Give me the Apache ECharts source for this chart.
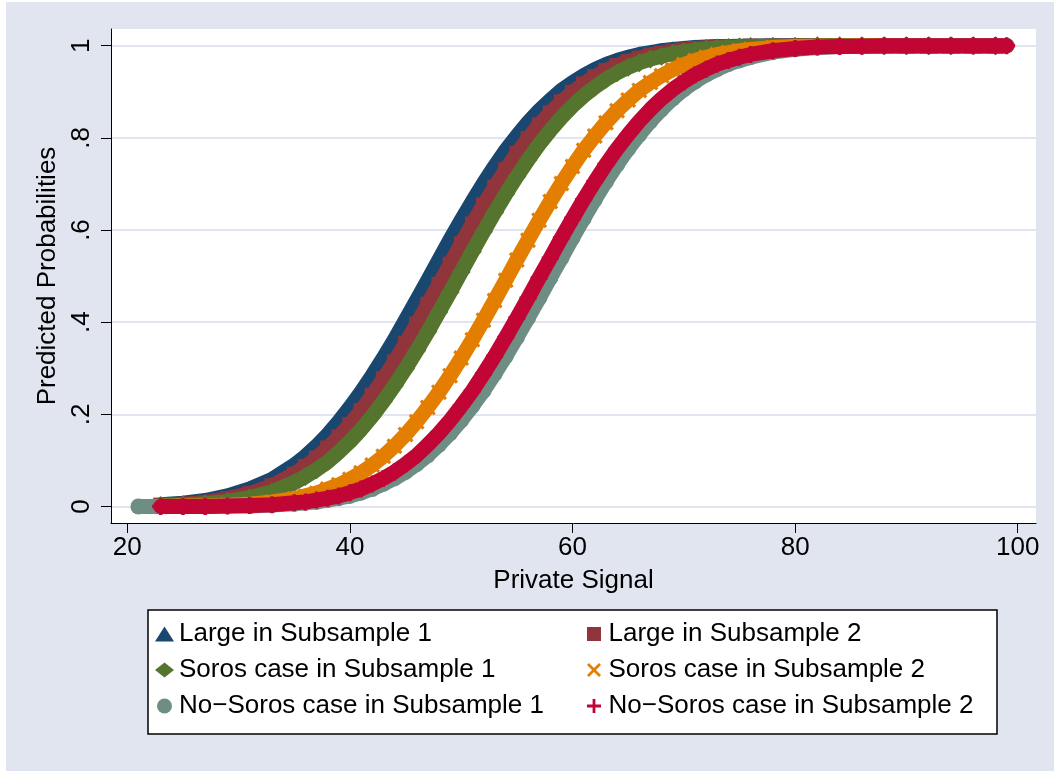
<!DOCTYPE html>
<html>
<head>
<meta charset="utf-8">
<script src="https://cdn.jsdelivr.net/npm/echarts@6/dist/echarts.min.js"></script>
<style>
  html, body { margin: 0; padding: 0; background: #fff; }
  #chart { width: 1054px; height: 771px; }
</style>
</head>
<body>
<div id="chart"></div>
<script>
// private signal values (x) shared by all curves
const signal = [21, 23, 25, 27, 29, 31, 33, 35,
  36, 37, 38, 39, 40, 41, 42, 43, 44, 45, 46, 47, 48, 49, 50, 51, 52, 53, 54, 55,
  56, 57, 58, 59, 60, 61, 62, 63, 64, 65, 66, 67, 68, 69, 70, 71, 72, 73, 74, 75, 76,
  78, 80, 82, 84, 86, 88, 90, 92, 94, 96, 98, 99];

// predicted probabilities
const large1 = [null, .004, .007, .013, .023, .038, .059, .090,
  .109, .131, .156, .184, .215, .248, .284, .322, .362, .405, .448, .491, .535, .579, .621, .662, .701, .738, .773, .804,
  .833, .859, .882, .903, .920, .935, .948, .959, .968, .975, .981, .985, .989, .992, .994, .996, .997, .998, .998, .999, .999,
  1, 1, 1, 1, 1, 1, 1, 1, 1, 1, 1, null];
const large2 = [null, .003, .005, .009, .017, .028, .045, .070,
  .087, .105, .127, .151, .178, .208, .241, .277, .314, .354, .396, .439, .482, .526, .570, .613, .654, .693, .731, .766,
  .798, .828, .854, .878, .899, .917, .933, .946, .957, .966, .973, .980, .984, .988, .991, .994, .995, .997, .998, .998, .999,
  .999, 1, 1, 1, 1, 1, 1, 1, 1, 1, 1, null];
const soros1 = [null, .002, .003, .006, .011, .019, .032, .052,
  .065, .080, .097, .118, .141, .167, .196, .228, .262, .299, .338, .379, .422, .465, .509, .553, .596, .638, .678, .716,
  .752, .786, .816, .844, .869, .891, .910, .927, .941, .953, .963, .971, .977, .983, .987, .990, .993, .995, .996, .997, .998,
  .999, .999, 1, 1, 1, 1, 1, 1, 1, 1, 1, null];
const soros2 = [null, .000, .001, .001, .003, .005, .010, .017,
  .023, .029, .038, .047, .059, .073, .090, .109, .131, .156, .184, .215, .248, .284, .322, .362, .404, .447, .491, .535,
  .578, .621, .662, .701, .738, .773, .804, .833, .859, .882, .903, .920, .935, .948, .959, .968, .975, .981, .985, .989, .992,
  .996, .998, .999, .999, 1, 1, 1, 1, 1, 1, 1, null];
const noSoros1 = [.000, .000, .000, .000, .001, .001, .003, .006,
  .008, .010, .014, .018, .023, .030, .038, .049, .061, .075, .092, .111, .134, .159, .187, .218, .251, .288, .326, .367,
  .409, .452, .496, .539, .583, .625, .666, .705, .742, .776, .807, .836, .862, .885, .905, .922, .937, .949, .960, .968, .975,
  .986, .992, .996, .998, .999, .999, 1, 1, 1, 1, 1, 1];
const noSoros2 = [null, .000, .000, .000, .001, .002, .004, .008,
  .010, .014, .018, .023, .030, .038, .049, .061, .075, .092, .111, .134, .159, .187, .218, .251, .288, .326, .367, .409,
  .452, .496, .539, .583, .625, .666, .705, .742, .776, .807, .836, .862, .885, .905, .922, .937, .949, .960, .968, .975, .981,
  .989, .994, .997, .998, .999, 1, 1, 1, 1, 1, 1, 1];

const names = ['Large in Subsample 1', 'Large in Subsample 2',
  'Soros case in Subsample 1', 'Soros case in Subsample 2',
  'No\u2212Soros case in Subsample 1', 'No\u2212Soros case in Subsample 2'];
const xTicks = [20, 40, 60, 80, 100];
const yTicks = [0, 0.2, 0.4, 0.6, 0.8, 1];

const font = "'Liberation Sans', Arial, sans-serif";
const bg = '#e0e5ef';
const crossX = 'path://M0,1.4L1.4,0L5,3.6L8.6,0L10,1.4L6.4,5L10,8.6L8.6,10L5,6.4L1.4,10L0,8.6L3.6,5Z';
const plus = 'path://M4,0H6V4H10V6H6V10H4V6H0V4H4Z';
const square = 'path://M0,0H10V10H0Z';

function curve(name, vals, color, symbol, size, z) {
  return {
    name: name,
    type: 'line',
    z: z,
    data: signal.map((x, i) => vals[i] == null ? null : [x, vals[i]]).filter(d => d),
    symbol: symbol,
    symbolSize: size,
    showSymbol: true,
    showAllSymbol: true,
    itemStyle: { color: color, borderWidth: 0 },
    lineStyle: { color: color, width: 15, cap: 'round', join: 'round' },
    emphasis: { disabled: true },
    silent: true
  };
}

const chart = echarts.init(document.getElementById('chart'));
chart.setOption({
  animation: false,
  backgroundColor: bg,
  textStyle: { fontFamily: font },
  graphic: [
    { type: 'rect', shape: { x: 0, y: 0, width: 6, height: 771 }, style: { fill: '#fff' }, silent: true },
    { type: 'rect', shape: { x: 0, y: 0, width: 1054, height: 2 }, style: { fill: '#fff' }, silent: true },
    { type: 'rect', shape: { x: 148, y: 610, width: 849, height: 124 }, style: { fill: '#fff', stroke: '#000', lineWidth: 1.5 }, silent: true }
  ],
  grid: {
    left: 111, top: 29, width: 925, height: 494,
    show: true, backgroundColor: '#fff', borderWidth: 0,
    containLabel: false, outerBoundsMode: 'none'
  },
  legend: [
    {
      left: 150, top: 616, orient: 'vertical', itemGap: 10, itemWidth: 19, itemHeight: 15,
      selectedMode: false,
      itemStyle: { borderWidth: 0 },
      textStyle: { fontSize: 26, color: '#000', fontFamily: font },
      data: [{ name: names[0], icon: 'triangle' }, { name: names[2], icon: 'diamond' }, { name: names[4], icon: 'circle' }]
    },
    {
      left: 582, top: 616, orient: 'vertical', itemGap: 10, itemWidth: 19, itemHeight: 14,
      selectedMode: false,
      itemStyle: { borderWidth: 0 },
      textStyle: { fontSize: 26, color: '#000', fontFamily: font },
      data: [{ name: names[1], icon: square }, { name: names[3], icon: crossX }, { name: names[5], icon: plus }]
    }
  ],
  xAxis: {
    type: 'value', min: 18.535, max: 101.64,
    name: 'Private Signal', nameLocation: 'middle', nameGap: 45,
    nameTextStyle: { fontSize: 26, color: '#000', fontFamily: font },
    axisLine: { show: true, onZero: false, lineStyle: { color: '#000', width: 1 } },
    axisTick: { show: true, length: 10, customValues: xTicks, lineStyle: { color: '#000' } },
    axisLabel: { customValues: xTicks, fontSize: 26, color: '#000', margin: 12, fontFamily: font },
    splitLine: { show: false }
  },
  yAxis: {
    type: 'value', min: -0.0358, max: 1.0362,
    name: 'Predicted Probabilities', nameLocation: 'middle', nameGap: 48, nameRotate: 90,
    nameTextStyle: { fontSize: 26, color: '#000', fontFamily: font },
    axisLine: { show: true, onZero: false, lineStyle: { color: '#000', width: 1 } },
    axisTick: { show: true, length: 10, customValues: yTicks, lineStyle: { color: '#000' } },
    axisLabel: {
      customValues: yTicks, rotate: 90, fontSize: 26, color: '#000', margin: 16, fontFamily: font,
      formatter: v => (v === 0 ? '0' : v === 1 ? '1' : String(+v.toFixed(1)).replace(/^0/, ''))
    },
    splitLine: { show: true, lineStyle: { color: bg, width: 2 } }
  },
  series: [
    curve(names[0], large1, '#1a476f', 'triangle', [18, 16], 2),
    curve(names[1], large2, '#90353b', 'rect', 15, 3),
    curve(names[2], soros1, '#55752f', 'diamond', 19, 4),
    curve(names[3], soros2, '#e37e00', crossX, 16, 5),
    curve(names[4], noSoros1, '#6e8e84', 'circle', 16, 6),
    curve(names[5], noSoros2, '#c10534', plus, 17, 7)
  ]
});
</script>
</body>
</html>
